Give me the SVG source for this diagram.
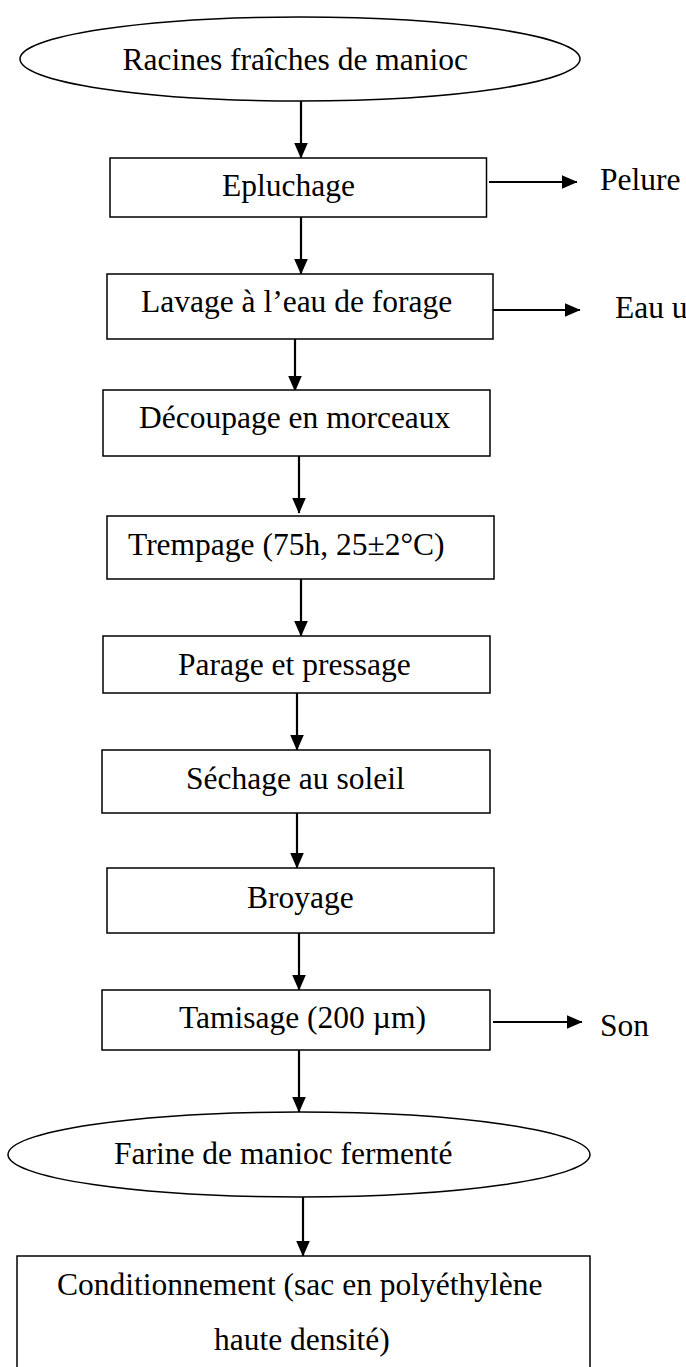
<svg xmlns="http://www.w3.org/2000/svg" width="686" height="1367" viewBox="0 0 686 1367">
<defs>
<style>
.n{fill:#fff;stroke:#000;stroke-width:1.5}
.t{font-family:"Liberation Serif","Times New Roman",serif;font-size:31.5px;fill:#000}
.c line{stroke:#000;stroke-width:2.2}
</style>
<marker id="ah" viewBox="0 0 16 14" markerWidth="16" markerHeight="14" refX="15.5" refY="7" orient="auto" markerUnits="userSpaceOnUse">
<path d="M0,0 L16,7 L0,14 Z" fill="#000"/>
</marker>
</defs>
<rect width="686" height="1367" fill="#fff"/>
<g id="connectors" class="c">
<line x1="301" y1="101" x2="301" y2="158" marker-end="url(#ah)"/>
<line x1="301" y1="217" x2="301" y2="274" marker-end="url(#ah)"/>
<line x1="295" y1="335" x2="295" y2="391" marker-end="url(#ah)"/>
<line x1="299" y1="456" x2="299" y2="513" marker-end="url(#ah)"/>
<line x1="301" y1="579" x2="301" y2="636" marker-end="url(#ah)"/>
<line x1="297" y1="690" x2="297" y2="750" marker-end="url(#ah)"/>
<line x1="297" y1="810" x2="297" y2="868" marker-end="url(#ah)"/>
<line x1="299" y1="933" x2="299" y2="990" marker-end="url(#ah)"/>
<line x1="299" y1="1050" x2="299" y2="1112" marker-end="url(#ah)"/>
<line x1="303" y1="1197" x2="303" y2="1256" marker-end="url(#ah)"/>
<line x1="489" y1="182" x2="577" y2="182" marker-end="url(#ah)"/>
<line x1="493" y1="310" x2="580" y2="310" marker-end="url(#ah)"/>
<line x1="493" y1="1022" x2="582" y2="1022" marker-end="url(#ah)"/>
</g>
<g id="n-racines"><ellipse class="n" cx="300" cy="59" rx="280" ry="42"/><text class="t" x="122.5" y="70">Racines fraîches de manioc</text></g>
<g id="n-epluchage"><rect class="n" x="110" y="158" width="376.5" height="59"/><text class="t" x="222" y="196">Epluchage</text></g>
<g id="n-pelure"><text class="t" x="600" y="190">Pelure</text></g>
<g id="n-lavage"><rect class="n" x="107" y="274" width="386" height="65"/><text class="t" x="141" y="312">Lavage à l’eau de forage</text></g>
<g id="n-eau"><text class="t" x="615" y="318">Eau u</text></g>
<g id="n-decoupage"><rect class="n" x="103" y="390" width="387" height="66"/><text class="t" x="139" y="428">Découpage en morceaux</text></g>
<g id="n-trempage"><rect class="n" x="107" y="516" width="387" height="63"/><text class="t" x="128" y="555">Trempage (75h, 25±2°C)</text></g>
<g id="n-parage"><rect class="n" x="103" y="636" width="387" height="57"/><text class="t" x="178" y="675">Parage et pressage</text></g>
<g id="n-sechage"><rect class="n" x="102" y="750" width="388" height="63"/><text class="t" x="186" y="789">Séchage au soleil</text></g>
<g id="n-broyage"><rect class="n" x="107" y="868" width="387" height="65"/><text class="t" x="247" y="908">Broyage</text></g>
<g id="n-tamisage"><rect class="n" x="102" y="990" width="388" height="60"/><text class="t" x="179" y="1028">Tamisage (200 µm)</text></g>
<g id="n-son"><text class="t" x="600" y="1036">Son</text></g>
<g id="n-farine"><ellipse class="n" cx="299" cy="1154.5" rx="291" ry="42.5"/><text class="t" x="114" y="1164">Farine de manioc fermenté</text></g>
<g id="n-conditionnement"><path class="n" d="M17,1370 V1256 H590 V1370"/><text class="t" x="57" y="1295">Conditionnement (sac en polyéthylène</text><text class="t" x="214" y="1350">haute densité)</text></g>
</svg>
